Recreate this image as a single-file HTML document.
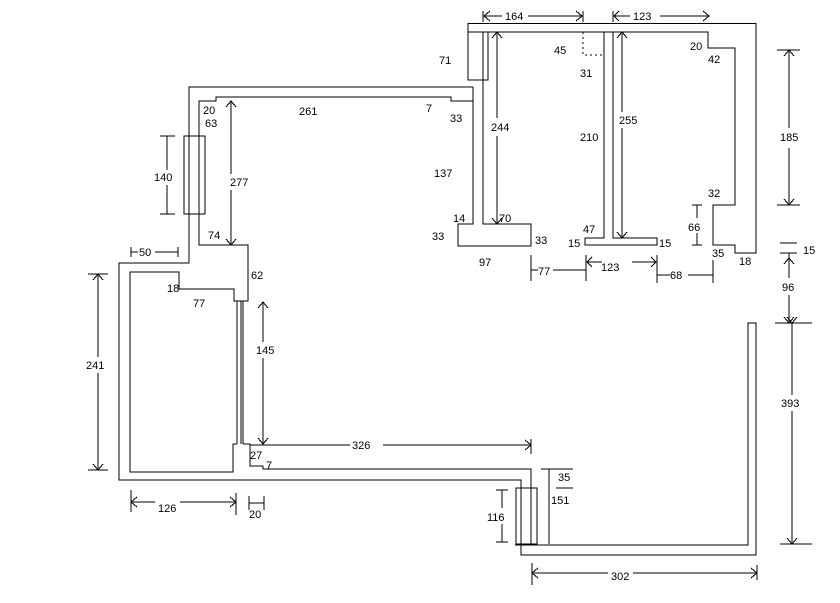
<!DOCTYPE html>
<html><head><meta charset="utf-8"><style>
html,body{margin:0;padding:0;background:#fff;}
svg{display:block;}
text{font-family:"Liberation Sans",sans-serif;font-size:11px;fill:#000;}
</style></head><body>
<svg width="840" height="603" viewBox="0 0 840 603" xmlns="http://www.w3.org/2000/svg" shape-rendering="crispEdges">
<g fill="none" stroke="#000" stroke-width="1.3">
<polyline points="468,80 468,23.5 756,23.5 756,253 735,253 735,245 713,245 713,205 735,205 735,48 708,48 708,32 468,32"/>
<polyline points="473,87 189,87 189,263 119,263 119,480 521,480 521,555 756,555 756,323 748,323 748,545 515,545"/>
<polyline points="473,87 473,224 458,224 458,246 531,246 531,224 483,224 483,32"/>
<rect x="468" y="32" width="20" height="48"/>
<polyline points="473,101 451,101 451,97 216,97 216,101 199,101 199,245 248,245 248,301 234,301 234,289 179,289 179,272 130,272 130,472 233,472 233,444 237,444"/>
<line x1="237" y1="301" x2="237" y2="444"/><line x1="241" y1="301" x2="241" y2="444"/><line x1="243" y1="301" x2="243" y2="444"/>
<polyline points="243,444 250,444 250,466 263,466 263,469 531,469 531,545"/>
<rect x="516" y="488" width="21" height="56"/>
<rect x="184" y="136" width="21" height="78"/>
<polyline points="604,32 604,238 585,238 585,245 657,245 657,238 613,238 613,32"/>
<polyline points="583,32 583,55 604,55" stroke-dasharray="2,3"/>
<line x1="483" y1="16" x2="502" y2="16"/><line x1="528" y1="16" x2="583" y2="16"/><line x1="483" y1="11" x2="483" y2="22"/><line x1="583" y1="11" x2="583" y2="22"/>
<line x1="613" y1="16" x2="630" y2="16"/><line x1="660" y1="16" x2="709" y2="16"/><line x1="613" y1="11" x2="613" y2="22"/>
<line x1="497" y1="32" x2="497" y2="118"/><line x1="497" y1="136" x2="497" y2="224"/>
<line x1="622" y1="32" x2="622" y2="112"/><line x1="622" y1="128" x2="622" y2="238"/>
<line x1="789" y1="50" x2="789" y2="128"/><line x1="789" y1="148" x2="789" y2="205"/><line x1="777" y1="50" x2="800" y2="50"/><line x1="777" y1="205" x2="800" y2="205"/>
<line x1="697" y1="205" x2="697" y2="218"/><line x1="697" y1="233" x2="697" y2="245"/><line x1="692" y1="205" x2="702" y2="205"/><line x1="692" y1="245" x2="702" y2="245"/>
<line x1="780" y1="243" x2="797" y2="243"/><line x1="780" y1="253" x2="797" y2="253"/>
<line x1="789" y1="253" x2="789" y2="278"/><line x1="789" y1="295" x2="789" y2="323"/>
<line x1="531" y1="255" x2="531" y2="281"/><line x1="531" y1="270" x2="538" y2="270"/><line x1="553" y1="270" x2="586" y2="270"/><line x1="586" y1="255" x2="586" y2="281"/>
<line x1="586" y1="262" x2="602" y2="262"/><line x1="632" y1="262" x2="657" y2="262"/>
<line x1="657" y1="255" x2="657" y2="283"/><line x1="657" y1="275" x2="670" y2="275"/><line x1="688" y1="275" x2="713" y2="275"/><line x1="713" y1="260" x2="713" y2="283"/>
<line x1="167" y1="136" x2="167" y2="170"/><line x1="167" y1="185" x2="167" y2="214"/><line x1="160" y1="136" x2="175" y2="136"/><line x1="160" y1="214" x2="175" y2="214"/>
<line x1="231" y1="101" x2="231" y2="174"/><line x1="231" y1="190" x2="231" y2="245"/>
<line x1="131" y1="247" x2="131" y2="257"/><line x1="131" y1="252" x2="138" y2="252"/><line x1="155" y1="252" x2="178" y2="252"/><line x1="178" y1="247" x2="178" y2="257"/>
<line x1="98" y1="274" x2="98" y2="357"/><line x1="98" y1="373" x2="98" y2="470"/><line x1="88" y1="274" x2="108" y2="274"/><line x1="88" y1="470" x2="108" y2="470"/>
<line x1="263" y1="302" x2="263" y2="342"/><line x1="263" y1="358" x2="263" y2="444"/>
<line x1="250" y1="445" x2="350" y2="445"/><line x1="383" y1="445" x2="531" y2="445"/><line x1="531" y1="439" x2="531" y2="454"/>
<line x1="131" y1="490" x2="131" y2="512"/><line x1="131" y1="502" x2="155" y2="502"/><line x1="180" y1="502" x2="236" y2="502"/><line x1="236" y1="493" x2="236" y2="515"/>
<line x1="249" y1="496" x2="249" y2="510"/><line x1="264" y1="496" x2="264" y2="510"/><line x1="249" y1="503" x2="264" y2="503"/>
<line x1="502" y1="490" x2="502" y2="508"/><line x1="502" y1="524" x2="502" y2="542"/><line x1="496" y1="490" x2="508" y2="490"/><line x1="496" y1="542" x2="508" y2="542"/>
<line x1="549" y1="469" x2="549" y2="544"/><line x1="541" y1="469" x2="573" y2="469"/><line x1="556" y1="488" x2="573" y2="488"/>
<line x1="532" y1="563" x2="532" y2="585"/><line x1="532" y1="573" x2="608" y2="573"/><line x1="633" y1="573" x2="757" y2="573"/><line x1="757" y1="565" x2="757" y2="580"/>
<line x1="792" y1="323" x2="792" y2="395"/><line x1="792" y1="411" x2="792" y2="544"/><line x1="775" y1="323" x2="812" y2="323"/><line x1="780" y1="544" x2="812" y2="544"/>
</g>
<g fill="none" stroke="#000" stroke-width="1">
<polyline points="490,11 484,16 490,21"/><polyline points="576,11 582,16 576,21"/>
<polyline points="619,11 614,16 619,21"/><polyline points="703,11 709,16 703,21"/>
<polyline points="492,38 497,32 502,38"/><polyline points="492,218 497,224 502,218"/>
<polyline points="617,38 622,32 627,38"/><polyline points="617,232 622,238 627,232"/>
<polyline points="784,56 789,50 794,56"/><polyline points="784,199 789,205 794,199"/>
<polyline points="784,264 789,258 794,264"/><polyline points="784,317 789,323 794,317"/>
<polyline points="226,107 231,101 236,107"/><polyline points="226,239 231,245 236,239"/>
<polyline points="93,280 98,274 103,280"/><polyline points="93,464 98,470 103,464"/>
<polyline points="258,308 263,302 268,308"/><polyline points="258,438 263,444 268,438"/>
<polyline points="525,440 531,445 525,450"/><polyline points="137,497 131,502 137,507"/><polyline points="230,497 236,502 230,507"/>
<polyline points="538,568 532,573 538,578"/><polyline points="751,568 757,573 751,578"/>
<polyline points="787,317 792,323 797,317"/><polyline points="787,538 792,544 797,538"/>
<polyline points="592,257 587,262 592,267"/><polyline points="651,257 656,262 651,267"/>
</g>
<text x="505" y="20">164</text><text x="633" y="20">123</text>
<text x="439" y="64">71</text><text x="554" y="54">45</text><text x="580" y="77">31</text>
<text x="690" y="50">20</text><text x="708" y="63">42</text><text x="426" y="112">7</text>
<text x="450" y="122">33</text><text x="491" y="131">244</text><text x="580" y="141">210</text>
<text x="619" y="124">255</text><text x="434" y="177">137</text><text x="780" y="141">185</text>
<text x="708" y="197">32</text><text x="453" y="222">14</text><text x="499" y="222">70</text>
<text x="432" y="240">33</text><text x="535" y="244">33</text><text x="583" y="233">47</text>
<text x="568" y="247">15</text><text x="659" y="247">15</text><text x="688" y="231">66</text>
<text x="712" y="257">35</text><text x="739" y="265">18</text><text x="479" y="266">97</text>
<text x="538" y="275">77</text><text x="601" y="271">123</text><text x="670" y="279">68</text>
<text x="803" y="254">15</text><text x="782" y="291">96</text>
<text x="203" y="114">20</text><text x="205" y="127">63</text><text x="299" y="115">261</text>
<text x="230" y="186">277</text><text x="154" y="181">140</text><text x="208" y="239">74</text>
<text x="139" y="256">50</text><text x="251" y="279">62</text><text x="167" y="292">18</text>
<text x="193" y="307">77</text><text x="256" y="354">145</text><text x="86" y="369">241</text>
<text x="352" y="449">326</text><text x="250" y="459">27</text><text x="266" y="469">7</text>
<text x="158" y="512">126</text><text x="249" y="518">20</text><text x="487" y="521">116</text>
<text x="558" y="481">35</text><text x="551" y="504">151</text><text x="611" y="580">302</text>
<text x="781" y="407">393</text>
</svg>
</body></html>
